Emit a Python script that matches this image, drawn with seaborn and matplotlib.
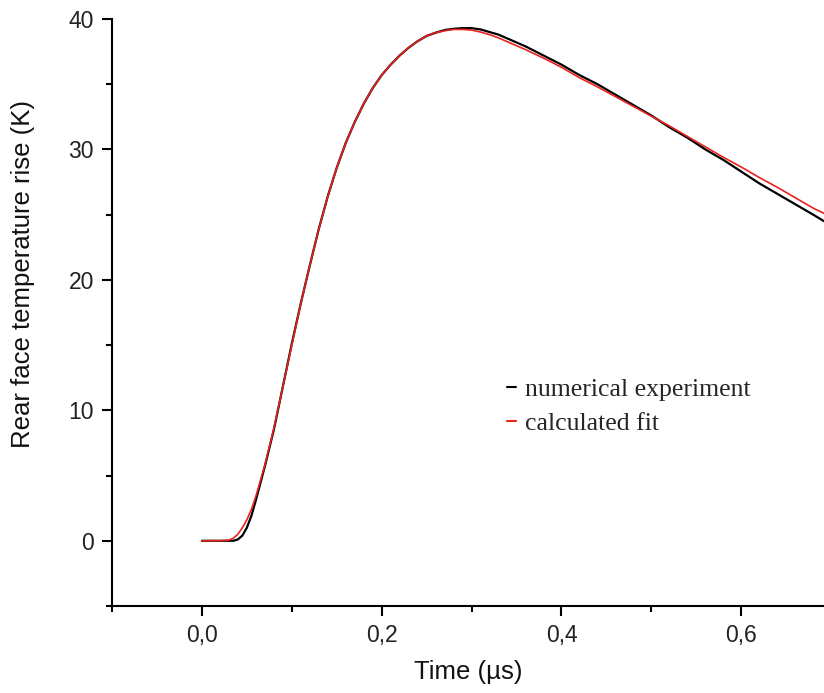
import numpy as np
import pandas as pd
import matplotlib
matplotlib.use("Agg")
import matplotlib.pyplot as plt
import seaborn as sns
from matplotlib.ticker import MultipleLocator, FuncFormatter

# numerical experiment (black)
t_exp = [0.000, 0.020, 0.035, 0.040, 0.045, 0.050, 0.055, 0.060, 0.070, 0.080,
         0.090, 0.100, 0.110, 0.120, 0.130, 0.140, 0.150, 0.160, 0.170, 0.180,
         0.190, 0.200, 0.210, 0.220, 0.230, 0.240, 0.250, 0.260, 0.270, 0.280,
         0.290, 0.300, 0.310, 0.320, 0.330, 0.340, 0.360, 0.380, 0.400, 0.420,
         0.440, 0.460, 0.480, 0.500, 0.520, 0.540, 0.560, 0.580, 0.600, 0.620,
         0.640, 0.660, 0.680, 0.692]
T_exp = [0.0, 0.0, 0.0, 0.1, 0.4, 1.0, 1.9, 3.1, 5.7, 8.5,
         11.8, 15.1, 18.2, 21.1, 23.9, 26.4, 28.6, 30.5, 32.1, 33.5,
         34.7, 35.7, 36.5, 37.2, 37.8, 38.3, 38.7, 38.95, 39.15, 39.25,
         39.3, 39.3, 39.2, 39.0, 38.8, 38.5, 37.9, 37.2, 36.5, 35.7,
         35.0, 34.2, 33.4, 32.6, 31.7, 30.9, 30.0, 29.2, 28.3, 27.4,
         26.6, 25.8, 25.0, 24.5]

# calculated fit (red)
t_fit = [0.000, 0.020, 0.030, 0.035, 0.040, 0.045, 0.050, 0.055, 0.060, 0.070,
         0.080, 0.090, 0.100, 0.110, 0.120, 0.130, 0.140, 0.150, 0.160, 0.170,
         0.180, 0.190, 0.200, 0.210, 0.220, 0.230, 0.240, 0.250, 0.260, 0.270,
         0.280, 0.290, 0.300, 0.310, 0.320, 0.330, 0.340, 0.360, 0.380, 0.400,
         0.420, 0.440, 0.460, 0.480, 0.500, 0.520, 0.540, 0.560, 0.580, 0.600,
         0.620, 0.640, 0.660, 0.680, 0.692]
T_fit = [0.0, 0.0, 0.05, 0.2, 0.5, 1.0, 1.6, 2.4, 3.4, 5.8,
         8.6, 11.8, 15.0, 18.2, 21.1, 23.9, 26.4, 28.6, 30.5, 32.1,
         33.5, 34.7, 35.7, 36.5, 37.2, 37.8, 38.3, 38.7, 38.95, 39.1,
         39.2, 39.2, 39.15, 39.0, 38.8, 38.55, 38.25, 37.65, 37.0, 36.3,
         35.5, 34.8, 34.05, 33.3, 32.55, 31.8, 31.0, 30.2, 29.4, 28.65,
         27.85, 27.1, 26.3, 25.5, 25.1]

exp_df = pd.DataFrame({"t": t_exp, "T": T_exp, "series": "numerical experiment"})
fit_df = pd.DataFrame({"t": t_fit, "T": T_fit, "series": "calculated fit"})

sns.set_style("ticks")
plt.rcParams["font.family"] = ["Liberation Sans", "DejaVu Sans"]

fig = plt.figure(figsize=(8.24, 6.93), dpi=100)
ax = fig.add_axes([112 / 824, 87 / 693, 712 / 824, 587 / 693])

sns.lineplot(data=exp_df, x="t", y="T", sort=False, estimator=None,
             color="black", linewidth=1.6, ax=ax, label="numerical experiment")
sns.lineplot(data=fit_df, x="t", y="T", sort=False, estimator=None,
             color="#e8221e", linewidth=1.2, ax=ax, label="calculated fit")

ax.set_xlim(-0.1, 0.692)
ax.set_ylim(-5, 40)
ax.xaxis.set_major_locator(MultipleLocator(0.2))
ax.xaxis.set_minor_locator(MultipleLocator(0.1))
ax.yaxis.set_major_locator(MultipleLocator(10))
ax.yaxis.set_minor_locator(MultipleLocator(5))
ax.xaxis.set_major_formatter(FuncFormatter(lambda v, p: f"{v:.1f}".replace(".", ",")))
ax.yaxis.set_major_formatter(FuncFormatter(lambda v, p: f"{v:.0f}"))

for side in ["top", "right"]:
    ax.spines[side].set_visible(False)
for side in ["left", "bottom"]:
    ax.spines[side].set_linewidth(1.5)
    ax.spines[side].set_color("black")

ax.tick_params(which="major", length=7, width=1.5, direction="out",
               labelsize=16.5, pad=6, colors="black")
ax.tick_params(which="minor", length=4, width=1.5, direction="out", colors="black")
for lab in ax.get_xticklabels() + ax.get_yticklabels():
    lab.set_color("#222222")

ax.set_xlabel("Time (µs)", fontsize=18.5, labelpad=9, color="#111111")
ax.set_ylabel("Rear face temperature rise (K)", fontsize=18.5, color="#111111")
ax.yaxis.set_label_coords(-0.108, 0.565)

leg = ax.legend(loc="upper left", bbox_to_anchor=(0.555, 0.388), frameon=False,
                prop={"family": "Liberation Serif", "size": 18.5},
                handlelength=0.35, handletextpad=0.35, labelspacing=0.42,
                borderpad=0, borderaxespad=0)
for line in leg.get_lines():
    line.set_linewidth(1.5)

fig.savefig("out.png", dpi=100, facecolor="white")
